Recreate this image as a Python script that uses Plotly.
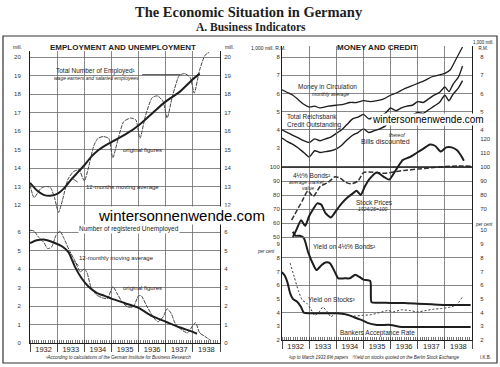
import plotly.graph_objects as go
import pandas as pd

# ---------------- data ----------------
# Employment (millions)
emp_orig_t = [1932.0, 1932.15, 1932.4, 1932.6, 1932.75, 1932.9, 1933.05, 1933.2, 1933.4, 1933.6, 1933.8,
              1934.0, 1934.15, 1934.35, 1934.5, 1934.7, 1934.9, 1935.05, 1935.25, 1935.45, 1935.7, 1935.9,
              1936.05, 1936.25, 1936.5, 1936.7, 1936.9, 1937.05, 1937.25, 1937.5, 1937.7, 1937.9, 1938.05,
              1938.25, 1938.45, 1938.6]
emp_orig = [13.1, 12.4, 12.9, 13.0, 12.95, 12.4, 11.6, 12.3, 13.4, 13.8, 13.9,
            13.3, 14.0, 15.2, 15.6, 15.7, 15.6, 14.55, 15.6, 16.5, 16.7, 16.6,
            15.6, 16.8, 17.8, 17.9, 17.6, 16.7, 17.9, 19.0, 19.1, 18.9, 18.05,
            19.3, 20.1, 20.25]
emp_ma_t = [1932.0, 1932.25, 1932.5, 1932.75, 1933.0, 1933.25, 1933.5, 1933.75, 1934.0, 1934.25, 1934.5,
            1934.75, 1935.0, 1935.5, 1936.0, 1936.5, 1937.0, 1937.5, 1938.0, 1938.25]
emp_ma = [13.2, 12.8, 12.55, 12.5, 12.6, 12.9, 13.35, 13.75, 14.15, 14.6, 14.95,
          15.2, 15.4, 15.8, 16.3, 16.95, 17.6, 18.1, 18.8, 19.1]

# Unemployment (millions)
unemp_orig_t = [1932.0, 1932.15, 1932.3, 1932.5, 1932.65, 1932.8, 1932.95, 1933.1, 1933.25, 1933.45, 1933.65,
                1933.85, 1934.0, 1934.1, 1934.25, 1934.45, 1934.65, 1934.85, 1935.05, 1935.2, 1935.4, 1935.6,
                1935.8, 1936.0, 1936.1, 1936.3, 1936.5, 1936.7, 1936.9, 1937.05, 1937.2, 1937.35, 1937.55,
                1937.8, 1938.0, 1938.1, 1938.25, 1938.45, 1938.65]
unemp_orig = [6.1, 6.05, 5.75, 5.45, 5.1, 5.2, 5.8, 6.05, 5.65, 5.0, 4.45,
              3.85, 4.0, 3.8, 3.0, 2.6, 2.45, 2.4, 3.05, 2.7, 2.2, 1.95,
              1.95, 2.55, 2.55, 2.0, 1.5, 1.15, 1.4, 1.85, 1.6, 1.05, 0.75,
              0.55, 0.95, 1.1, 0.55, 0.35, 0.15]
unemp_ma_t = [1932.0, 1932.25, 1932.5, 1932.75, 1933.0, 1933.2, 1933.42, 1933.66, 1933.9, 1934.15, 1934.47,
              1934.75, 1935.0, 1935.5, 1936.0, 1936.5, 1937.0, 1937.5, 1938.0, 1938.15]
unemp_ma = [5.4, 5.55, 5.6, 5.5, 5.35, 5.2, 4.9, 4.1, 3.5, 3.05, 2.7,
            2.55, 2.4, 2.15, 1.9, 1.45, 1.15, 0.85, 0.6, 0.5]

# Money and credit (1,000 mill. RM)
circ_t = [1932.0, 1932.2, 1932.4, 1932.6, 1932.8, 1933.0, 1933.2, 1933.4, 1933.7, 1934.0, 1934.25, 1934.5,
          1934.75, 1935.0, 1935.25, 1935.5, 1935.75, 1936.0, 1936.25, 1936.5, 1936.75, 1937.0, 1937.25,
          1937.5, 1937.75, 1938.0, 1938.2, 1938.4, 1938.65]
circ = [6.2, 6.05, 5.9, 5.65, 5.4, 5.25, 5.3, 5.2, 5.3, 5.35, 5.4, 5.5,
        5.5, 5.6, 5.55, 5.6, 5.7, 5.9, 6.05, 6.25, 6.4, 6.55, 6.7,
        6.9, 7.0, 7.1, 7.3, 7.85, 8.55]
credit_t = [1932.0, 1932.2, 1932.4, 1932.6, 1932.8, 1933.0, 1933.2, 1933.4, 1933.6, 1933.8, 1934.0, 1934.2,
            1934.4, 1934.6, 1934.8, 1935.0, 1935.2, 1935.4, 1935.6, 1935.8, 1936.0, 1936.2, 1936.4, 1936.6,
            1936.8, 1937.0, 1937.2, 1937.4, 1937.6, 1937.8, 1938.0, 1938.15, 1938.3, 1938.5, 1938.65]
credit = [4.0, 3.85, 3.7, 3.55, 3.4, 3.3, 3.5, 3.4, 3.5, 3.6, 3.8, 4.0,
          4.3, 4.6, 4.7, 4.85, 4.6, 4.7, 4.75, 4.9, 5.2, 5.05, 5.2, 5.3,
          5.35, 5.55, 5.5, 5.7, 5.9, 6.05, 6.35, 6.1, 6.5, 6.9, 7.5]
bills = [3.55, 3.35, 3.2, 3.0, 2.75, 2.5, 2.85, 2.75, 2.8, 2.85, 2.95, 3.15,
         3.45, 3.7, 3.85, 4.05, 3.85, 3.95, 4.05, 4.2, 4.55, 4.4, 4.55, 4.7,
         4.8, 4.95, 4.9, 5.1, 5.3, 5.5, 5.9, 5.6, 5.95, 6.3, 6.7]

# 4 1/2 % bonds (average market value) and stock prices (1924/26 = 100)
bonds_t = [1932.35, 1932.55, 1932.75, 1932.95, 1933.15, 1933.4, 1933.7, 1933.95, 1934.15, 1934.35, 1934.55,
           1934.8, 1935.0, 1935.2, 1935.5, 1935.8, 1936.1, 1936.5, 1937.0, 1937.5, 1938.0, 1938.5, 1938.95]
bonds = [62, 69, 76, 83, 79, 86, 89, 93, 92, 89, 88,
         90, 96, 96.5, 96, 95.5, 96.5, 97.5, 98.5, 99.5, 100.3, 100.8, 100.5]
stock_t = [1932.4, 1932.55, 1932.7, 1932.85, 1933.0, 1933.15, 1933.3, 1933.45, 1933.6, 1933.8, 1934.0, 1934.2,
           1934.4, 1934.6, 1934.75, 1934.9, 1935.05, 1935.25, 1935.5, 1935.75, 1935.95, 1936.2, 1936.45,
           1936.7, 1936.95, 1937.2, 1937.45, 1937.65, 1937.85, 1938.05, 1938.25, 1938.45, 1938.6, 1938.7]
stock = [50, 56, 62, 58, 65, 70, 74, 73, 67, 64, 69, 74,
         78, 81, 83, 80, 86, 92, 96, 93, 91, 98, 105,
         107, 110, 113, 116, 115, 111, 114, 114, 112, 108, 104.5]

# Yields and rates (per cent)
ybond_t = [1932.4, 1932.5, 1932.65, 1932.8, 1932.97, 1933.15, 1933.27, 1933.45, 1933.6, 1933.76, 1933.95,
           1934.07, 1934.3, 1934.5, 1934.7, 1934.85, 1935.0, 1935.25, 1935.3, 1935.6, 1936.0, 1936.5,
           1937.0, 1937.5, 1938.0, 1938.5, 1938.95]
ybond = [9.9, 9.6, 9.6, 9.45, 8.35, 7.5, 7.1, 7.45, 7.65, 7.6, 6.95,
         6.5, 6.5, 6.5, 6.75, 6.6, 6.4, 6.3, 4.75, 4.72, 4.7, 4.7,
         4.65, 4.6, 4.55, 4.55, 4.55]
ystock_t = [1932.3, 1932.45, 1932.6, 1932.75, 1932.9, 1933.05, 1933.2, 1933.35, 1933.5, 1933.65, 1933.8,
            1934.0, 1934.2, 1934.45, 1934.7, 1935.0, 1935.3, 1935.6, 1935.9, 1936.1, 1936.4, 1936.7,
            1937.0, 1937.3, 1937.6, 1937.9, 1938.2, 1938.45, 1938.65]
ystock = [7.6, 6.6, 5.6, 4.9, 4.7, 4.3, 3.8, 4.0, 4.4, 4.1, 3.7,
          4.0, 3.9, 3.8, 3.75, 3.8, 3.85, 4.0, 4.15, 4.05, 4.2, 4.15,
          4.05, 4.15, 4.25, 4.3, 4.4, 4.6, 5.15]
accept_t = [1932.0, 1932.1, 1932.2, 1932.3, 1932.4, 1932.55, 1932.7, 1932.8, 1933.0, 1933.5, 1934.0,
            1934.4, 1934.6, 1934.8, 1935.0, 1935.15, 1935.5, 1936.0, 1936.4, 1937.0, 1938.0, 1938.95]
accept = [6.95, 6.7, 6.2, 5.4, 5.0, 4.8, 4.4, 4.0, 3.95, 3.95, 3.95,
          3.85, 3.7, 3.55, 3.4, 3.25, 3.1, 3.1, 2.95, 2.95, 2.95, 2.95]

# tick labels
emp_ticks = [12, 13, 14, 15, 16, 17, 18, 19, 20]
unemp_ticks = [0, 1, 2, 3, 4, 5, 6]
money_left_ticks = [3, 4, 5, 6, 7, 8]
money_right_ticks = [4, 5, 6, 7, 8]
price_left_ticks = [50, 60, 70, 80, 90, 100]
price_right_ticks = [70, 80, 90, 100, 110, 120]
yield_left_ticks = [2, 3, 4, 5, 6, 7, 8, 9]
yield_right_ticks = [2, 3, 4, 5, 6, 7, 8, 9, 10]
yield_grid = [4, 6, 8]

# ---------------- layout helpers ----------------
W, H = 500, 367
INK = "#1e1e1e"
GRID = "#6a6a6a"


def fy(v):
    y = int(v)
    f = v - y
    a = pd.Timestamp(year=y, month=1, day=1)
    b = pd.Timestamp(year=y + 1, month=1, day=1)
    return a + (b - a) * f


def dates(lst):
    return [fy(v) for v in lst]


def xdom(l, r):
    return [l / W, r / W]


def ydom(top, bot):
    return [1 - bot / H, 1 - top / H]


def yrange(v_hi, p_hi, v_lo, p_lo, top, bot):
    s = (p_lo - p_hi) / (v_hi - v_lo)
    return [v_lo - (bot - p_lo) / s, v_hi + (p_hi - top) / s]


XR = ["1932-01-01", "1939-01-01"]
tickfont = dict(size=6, color="#333", family="Liberation Sans")


def xbase(dom, anchor, labels):
    d = dict(domain=dom, anchor=anchor, type="date", range=XR, dtick="M12", tick0="1932-01-01",
             showgrid=True, gridcolor=GRID, gridwidth=0.8, zeroline=False, automargin=False,
             fixedrange=True)
    if labels:
        d.update(ticklabelmode="period", tickformat="%Y", ticks="outside", ticklen=8, tickcolor=INK,
                 tickwidth=0.8, showline=True, linecolor=INK, linewidth=1,
                 tickfont=dict(size=7.5, color=INK, family="Liberation Sans"),
                 ticklabelstandoff=-9,
                 minor=dict(dtick="M1", ticks="inside", ticklen=3, tickcolor=INK, tickwidth=0.6))
    else:
        d.update(showticklabels=False, ticks="")
    return d


def yax(dom, rng, anchor, tickvals, side="left", grid=True, overlay=None, standoff=3, line=True,
        labels=True):
    d = dict(domain=dom, range=rng, anchor=anchor, tickmode="array", tickvals=tickvals, side=side,
             showgrid=grid, gridcolor=GRID, gridwidth=0.8, zeroline=False, ticks="",
             showline=line, linecolor=INK, linewidth=1, tickfont=tickfont, automargin=False,
             ticklabelstandoff=standoff, showticklabels=labels, fixedrange=True)
    if overlay:
        d["overlaying"] = overlay
    return d


# left panel geometry
LD_TOP = ydom(51, 218)
LD_BOT = ydom(218, 343)
EMP_R = yrange(20, 57, 12, 205, 51, 218)
UNE_R = yrange(6, 232, 0, 343, 218, 343)
# right panel geometry
MON_D = ydom(46, 162)
MON_R = yrange(8, 57, 3, 148, 46, 162)
PRI_D = ydom(128, 240)
PRI_R = yrange(100, 167, 50, 237, 128, 240)
YLD_D = ydom(222, 340)
YLD_R = yrange(9, 244, 2, 340, 222, 340)

fig = go.Figure()


def line(t, v, xa, ya, width=1.8, dash="solid", color=INK):
    fig.add_trace(go.Scatter(x=dates(t), y=v, xaxis=xa, yaxis=ya, mode="lines",
                             line=dict(color=color, width=width, dash=dash, shape="spline", smoothing=0.6),
                             showlegend=False, hoverinfo="skip"))


def empty(xa, ya):
    fig.add_trace(go.Scatter(x=[], y=[], xaxis=xa, yaxis=ya, mode="lines", showlegend=False,
                             hoverinfo="skip"))


# Left panel traces
line(emp_orig_t, emp_orig, "x2", "y", width=1.0, dash="4px,1px", color="#444")
line(emp_ma_t, emp_ma, "x2", "y", width=2.0)
line(unemp_orig_t, unemp_orig, "x", "y2", width=1.0, dash="4px,1px", color="#444")
line(unemp_ma_t, unemp_ma, "x", "y2", width=2.0)
empty("x2", "y3")
empty("x", "y4")

# Right panel traces
line(circ_t, circ, "x4", "y5", width=1.3)
line(credit_t, credit, "x4", "y5", width=1.4)
line(credit_t, bills, "x4", "y5", width=1.4)
line(bonds_t, bonds, "x5", "y6", width=1.5, dash="5px,2px", color="#333")
line(stock_t, stock, "x5", "y6", width=2.0)
line(ybond_t, ybond, "x3", "y7", width=2.0)
line(ystock_t, ystock, "x3", "y7", width=1.0, dash="2px,2px", color="#333")
line(accept_t, accept, "x3", "y7", width=2.0)
empty("x4", "y8")
empty("x5", "y9")
empty("x3", "y10")
empty("x3", "y11")

fig.update_layout(
    width=W, height=H, margin=dict(l=0, r=0, t=0, b=0, autoexpand=False),
    paper_bgcolor="white", plot_bgcolor="rgba(0,0,0,0)",
    font=dict(family="Liberation Sans", color=INK),
    showlegend=False,
    xaxis=xbase(xdom(30, 220), "y2", True),
    xaxis2={**xbase(xdom(30, 220), "y", False), "matches": "x"},
    xaxis3=xbase(xdom(282, 472), "y7", True),
    xaxis4={**xbase(xdom(282, 472), "y5", False), "matches": "x3"},
    xaxis5={**xbase(xdom(282, 472), "y6", False), "matches": "x3"},
    yaxis=yax(LD_TOP, EMP_R, "x2", emp_ticks, standoff=7),
    yaxis2=yax(LD_BOT, UNE_R, "x", unemp_ticks, standoff=7),
    yaxis3=yax(LD_TOP, EMP_R, "x2", emp_ticks, side="right", grid=False, overlay="y", standoff=2),
    yaxis4=yax(LD_BOT, UNE_R, "x", unemp_ticks, side="right", grid=False, overlay="y2", standoff=2),
    yaxis5=yax(MON_D, MON_R, "x4", money_left_ticks, grid=False, standoff=0),
    yaxis6=yax(PRI_D, PRI_R, "x5", price_left_ticks, standoff=0),
    yaxis7=yax(YLD_D, YLD_R, "x3", yield_left_ticks, grid=False, standoff=0),
    yaxis8=yax(MON_D, MON_R, "x4", money_right_ticks, side="right", overlay="y5", standoff=6),
    yaxis9=yax(PRI_D, PRI_R, "x5", price_right_ticks, side="right", grid=False, overlay="y6", standoff=6),
    yaxis10=yax(YLD_D, YLD_R, "x3", yield_right_ticks, side="right", grid=False, overlay="y7", standoff=6),
    yaxis11=yax(YLD_D, YLD_R, "x3", yield_grid, side="right", grid=True, overlay="y7", line=False,
                labels=False),
)

# frame
fig.add_shape(type="rect", xref="paper", yref="paper", x0=3 / W, x1=497 / W, y0=1 - 363 / H, y1=1 - 36 / H,
              line=dict(color="#333", width=1.2))
# thicker divider at the 100 line of bonds/stocks
fig.add_shape(type="line", xref="x5", yref="y6", x0=XR[0], x1=XR[1], y0=100, y1=100,
              line=dict(color=INK, width=1.6))


def ann(text, x, y, size=6, bold=False, italic=False, xanchor="center", family="Liberation Sans",
        color=INK, bg=None):
    t = text
    if bold:
        t = "<b>" + t + "</b>"
    if italic:
        t = "<i>" + t + "</i>"
    d = dict(text=t, x=x / W, y=1 - y / H, xref="paper", yref="paper", showarrow=False,
             xanchor=xanchor, yanchor="middle", font=dict(size=size, family=family, color=color))
    if bg:
        d.update(bgcolor=bg, borderpad=0)
    fig.add_annotation(**d)


def leader(xa, ya, t, v, ax, ay):
    # thin leader line from a label towards a point on a curve
    fig.add_annotation(x=fy(t), y=v, xref=xa, yref=ya, text="", showarrow=True, arrowhead=0,
                       arrowwidth=0.8, arrowcolor="#333", ax=ax, ay=ay, standoff=0)


# titles
ann("The Economic Situation in Germany", 249, 12, size=14.5, bold=True, family="Liberation Serif")
ann("A. Business Indicators", 251, 27, size=11.5, bold=True, family="Liberation Serif")
ann("EMPLOYMENT AND UNEMPLOYMENT", 123, 47, size=8, bold=True)
ann("MONEY AND CREDIT", 377, 47, size=8, bold=True)

# units
ann("mill.", 17, 47, size=5)
ann("mill.", 229, 47, size=5)
ann("1,000 mill. R.M.", 268, 48, size=5)
ann("1,000 mill.<br>R.M.", 483, 46, size=4.5)
ann("per cent", 266, 251, size=4.5, italic=True)
ann("per cent", 484, 224, size=4.5, italic=True)

# left annotations
ann("Total Number of Employed\u00b9", 96, 71, size=6.5)
ann("wage earners and salaried employees", 96, 78, size=5, italic=True)
ann("original figures", 142, 150, size=6)
ann("12-months moving average", 122, 187, size=6)
ann("Number of registered Unemployed", 129, 229, size=6.5, bg="white")
ann("12-monthly moving average", 116, 258, size=6)
ann("original figures", 142, 288, size=6)
ann("\u00b9According to calculations of the German Institute for Business Research", 118, 357, size=4.5,
    italic=True)
leader("x2", "y", 1937.55, 19.05, -40, 0)
leader("x2", "y", 1933.55, 13.45, 7, 5)
leader("x", "y2", 1933.55, 4.5, 8, 7)

# right annotations
ann("Money in Circulation", 327, 87, size=6.5)
ann("monthly average", 330, 94, size=5, italic=True)
ann("Total Reichsbank", 285, 117, size=6.5, xanchor="left")
ann("Credit Outstanding", 285, 125, size=6.5, xanchor="left")
ann("thereof", 397, 135, size=5, italic=True)
ann("Bills discounted", 385, 142, size=7)
ann("4\u00bd% Bonds\u00b2", 312, 175, size=6.5)
ann("average market", 306, 182, size=5, italic=True)
ann("value", 308, 188, size=5, italic=True)
ann("Stock Prices", 374, 203, size=6.5)
ann("1924/26=100", 373, 209, size=5, italic=True)
ann("Yield on 4\u00bd% Bonds\u00b2", 344, 247, size=6.5)
ann("Yield on Stocks\u00b3", 332, 299, size=6.5)
ann("Bankers Acceptance Rate", 377, 333, size=6.5)
ann("\u00b2up to March 1933 6% papers   \u00b3Yield on stocks quoted on the Berlin Stock Exchange", 374, 357,
    size=4.5, italic=True)
ann("I.K.B.", 485, 357, size=4.5)

# watermarks present in the picture
ann("wintersonnenwende.com", 181, 215, size=15, color="black", bg="white")
ann("wintersonnenwende.com", 428, 119, size=10, color="black", bg="white")

fig.write_html("out.html", config={"displayModeBar": False, "staticPlot": True},
               post_script="document.body.style.margin='0px';")
